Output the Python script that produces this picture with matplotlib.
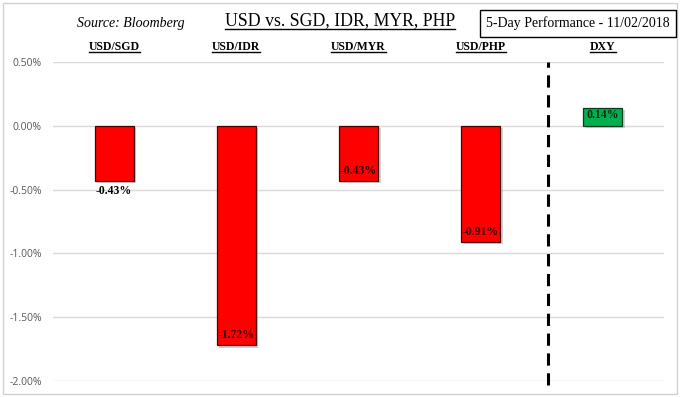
import matplotlib
matplotlib.use("Agg")
import matplotlib.pyplot as plt
import matplotlib.patheffects as pe
from matplotlib.patches import Rectangle
from matplotlib.lines import Line2D

categories = ["USD/SGD", "USD/IDR", "USD/MYR", "USD/PHP", "DXY"]
values = [-0.43, -1.72, -0.43, -0.91, 0.14]
value_labels = ["-0.43%", "-1.72%", "-0.43%", "-0.91%", "0.14%"]
yticks = [0.5, 0.0, -0.5, -1.0, -1.5, -2.0]
ytick_labels = ["0.50%", "0.00%", "-0.50%", "-1.00%", "-1.50%", "-2.00%"]

W, H = 680, 397
fig = plt.figure(figsize=(W / 100, H / 100), dpi=100)
fig.patch.set_facecolor("white")

# outer frame
fig.add_artist(Rectangle((3 / W, 3 / H), 674 / W, 391 / H, transform=fig.transFigure,
                         fill=False, edgecolor="#d0d0d0", linewidth=1.0))

ax = fig.add_axes([53 / W, 1 - 381 / H, (664 - 53) / W, (381 - 62) / H])
ax.set_xlim(-0.5, 4.5)
ax.set_ylim(-2.0, 0.5)
for s in ax.spines.values():
    s.set_visible(False)
ax.set_xticks([])
ax.set_yticks(yticks)
ax.set_yticklabels(ytick_labels, fontfamily="Open Sans", fontsize=7.5, color="#595959")
ax.tick_params(axis="y", length=0, pad=8)
ax.grid(axis="y", color="#d9d9d9", linewidth=1.0)
ax.set_axisbelow(True)

serif = "Liberation Serif"
xs = list(range(len(categories)))
colors = ["#ff0000" if v < 0 else "#00b050" for v in values]
edges = ["#4d0000" if v < 0 else "#003d1a" for v in values]
bars = ax.bar(xs, values, width=0.32, color=colors, edgecolor=edges, linewidth=0.9, zorder=3)
for b in bars:
    b.set_path_effects([pe.SimplePatchShadow(offset=(1.8, -1.8), shadow_rgbFace="#9a9a9a", alpha=0.45),
                        pe.Normal()])

for i, (x, v, lab) in enumerate(zip(xs, values, value_labels)):
    if i == 0:
        ax.annotate(lab, (x, v), xytext=(0, -3), textcoords="offset points", ha="center", va="top",
                    fontfamily=serif, fontweight="bold", fontsize=8.5, color="black", zorder=5)
    elif v < 0:
        ax.annotate(lab, (x, v), xytext=(0, 3), textcoords="offset points", ha="center", va="bottom",
                    fontfamily=serif, fontweight="bold", fontsize=8.5, color="#3a0000", zorder=5)
    else:
        ax.annotate(lab, (x, v), xytext=(0, -1), textcoords="offset points", ha="center", va="top",
                    fontfamily=serif, fontweight="bold", fontsize=8.5, color="#0d2a0d", zorder=5)

# dashed separator
ax.axvline(3.55, ymin=-0.012, ymax=1.0, color="black", linewidth=2.2, linestyle=(0, (4, 2.5)),
           clip_on=False, zorder=4)

texts_to_underline = []
# category labels
for x, c in zip(xs, categories):
    t = fig.text((53 + (x + 0.5) * (611 / 5)) / W, 1 - 47 / H, c, ha="center", va="center",
                 fontfamily=serif, fontweight="bold", fontsize=8.5, color="black")
    texts_to_underline.append((t, 1.0))

title = fig.text(340 / W, 1 - 21 / H, "USD vs. SGD, IDR, MYR, PHP", ha="center", va="center",
                 fontfamily=serif, fontsize=12.8, color="black")
texts_to_underline.append((title, 1.0))

fig.text(131 / W, 1 - 23 / H, "Source: Bloomberg", ha="center", va="center",
         fontfamily=serif, fontstyle="italic", fontsize=10, color="black")

fig.add_artist(Rectangle((480 / W, 1 - 37 / H), 196 / W, 27 / H, transform=fig.transFigure,
                         fill=False, edgecolor="black", linewidth=1.0))
fig.text(578 / W, 1 - 23.5 / H, "5-Day Performance - 11/02/2018", ha="center", va="center",
         fontfamily=serif, fontsize=10, color="black")

fig.canvas.draw()
renderer = fig.canvas.get_renderer()
for t, lw in texts_to_underline:
    bb = t.get_window_extent(renderer)
    y = bb.y0 + 1
    fig.add_artist(Line2D([bb.x0 / W, bb.x1 / W], [y / H, y / H], transform=fig.transFigure,
                          color="black", linewidth=lw))

fig.savefig("out.png", dpi=100)
